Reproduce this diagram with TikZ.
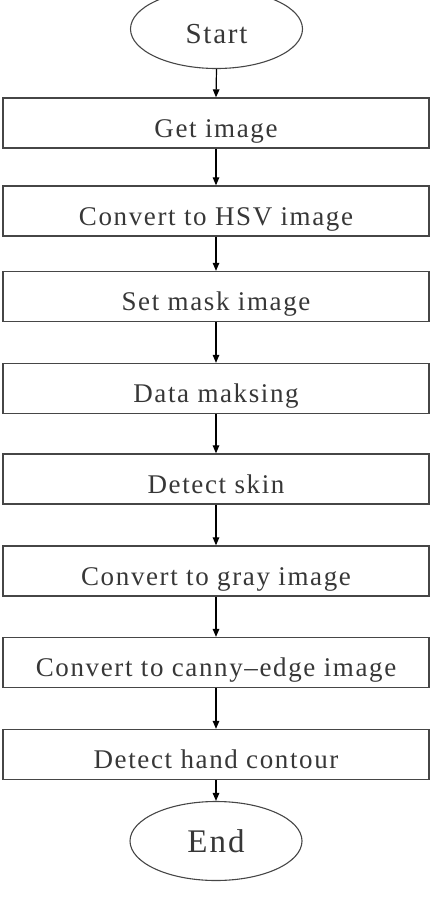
\documentclass[tikz,border=0pt]{standalone}
\usepackage{fontspec}
\setmainfont{Liberation Serif}[LetterSpace=6]
\usetikzlibrary{shapes.geometric,arrows.meta}
\definecolor{linec}{RGB}{70,70,70}
\definecolor{textc}{RGB}{55,55,55}
\begin{document}
\begin{tikzpicture}[x=1pt,y=-1pt,
  box/.style={draw=linec,line width=1.3pt,minimum width=426pt,minimum height=50pt,inner sep=0pt,text height=28pt,text depth=0pt,text=textc,font=\fontsize{27}{30}\selectfont},
  term/.style={ellipse,draw=linec,line width=1.1pt,minimum width=172pt,minimum height=79pt,inner sep=0pt,text=textc},
  arr/.style={draw=black,line width=1.2pt,-{Triangle[length=8pt,width=6.5pt]}}]
\useasboundingbox (0,0) rectangle (433,902);
\node[term,font=\fontsize{29}{32}\selectfont,text height=28pt,text depth=0pt] (start) at (216.5,29) {Start};
\node[box] (b1) at (216,123) {Get image};
\node[box] (b2) at (216,211) {Convert to HSV image};
\node[box] (b3) at (216,296.5) {Set mask image};
\node[box] (b4) at (216,388.5) {Data maksing};
\node[box] (b5) at (216,479) {Detect skin};
\node[box] (b6) at (216,571) {Convert to gray image};
\node[box] (b7) at (216,662.5) {Convert to canny–edge image};
\node[box] (b8) at (216,754.5) {Detect hand contour};
\node[term,font=\fontsize{33}{36}\selectfont] (end) at (216,841) {End};
\draw[arr] (start.south) -- (b1.north);
\draw[arr] (b1.south) -- (b2.north);
\draw[arr] (b2.south) -- (b3.north);
\draw[arr] (b3.south) -- (b4.north);
\draw[arr] (b4.south) -- (b5.north);
\draw[arr] (b5.south) -- (b6.north);
\draw[arr] (b6.south) -- (b7.north);
\draw[arr] (b7.south) -- (b8.north);
\draw[arr] (b8.south) -- (end.north);
\end{tikzpicture}
\end{document}
